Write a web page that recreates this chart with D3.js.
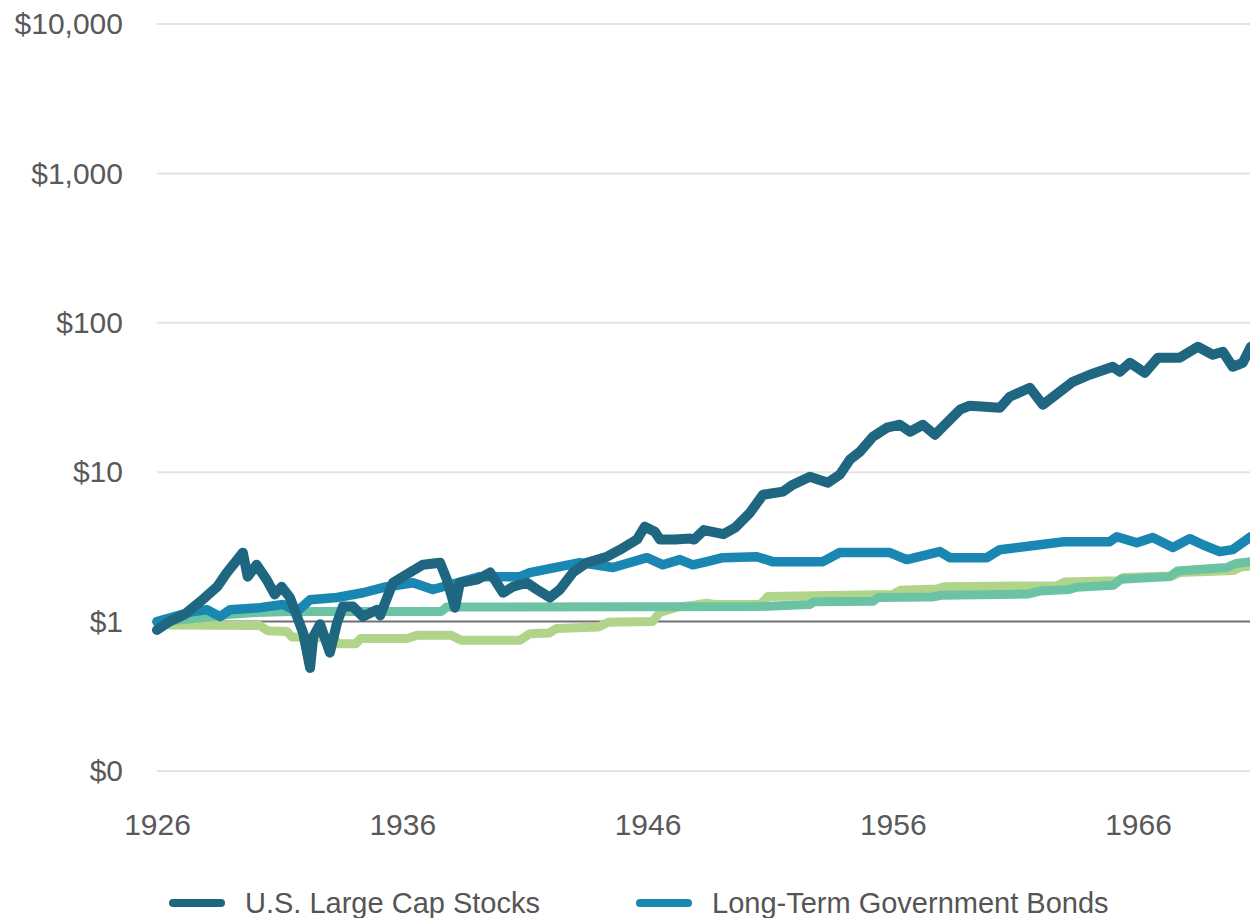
<!DOCTYPE html>
<html>
<head>
<meta charset="utf-8">
<script src="https://cdn.jsdelivr.net/npm/d3@7"></script>
<style>
  body { margin: 0; background: #fff; }
  svg { display: block; }
  text { font-family: "Liberation Sans", Arial, sans-serif; }
</style>
</head>
<body>
<div id="viz"></div>
<script>
// growth of $1, log scale. [year, value]
const stocks = [
  [1926.0, 0.88], [1926.5, 1.0], [1927.1, 1.11], [1927.76, 1.36], [1928.45, 1.71], [1928.85, 2.13],
  [1929.5, 2.89], [1929.7, 2.0], [1930.06, 2.4], [1930.47, 1.91], [1930.8, 1.52], [1931.08, 1.71],
  [1931.42, 1.45], [1931.71, 1.08], [1931.96, 0.84], [1932.24, 0.49], [1932.37, 0.79], [1932.65, 0.96],
  [1933.05, 0.62], [1933.34, 0.98], [1933.58, 1.26], [1933.99, 1.26], [1934.4, 1.08], [1934.97, 1.2],
  [1935.1, 1.1], [1935.62, 1.82], [1936.31, 2.13], [1936.84, 2.4], [1937.54, 2.48], [1937.82, 1.91],
  [1938.15, 1.24], [1938.35, 1.82], [1939.05, 1.91], [1939.58, 2.13], [1940.11, 1.56], [1940.51, 1.71],
  [1941.08, 1.82], [1941.49, 1.64], [1942.02, 1.45], [1942.43, 1.64], [1942.96, 2.13], [1943.53, 2.48],
  [1944.35, 2.72], [1944.88, 3.03], [1945.57, 3.54], [1945.89, 4.32], [1946.3, 4.0], [1946.51, 3.54],
  [1947.12, 3.54], [1947.73, 3.6], [1947.9, 3.54], [1948.3, 4.1], [1949.1, 3.85], [1949.57, 4.25],
  [1950.18, 5.36], [1950.71, 7.07], [1951.52, 7.41], [1951.93, 8.25], [1952.62, 9.33], [1953.36, 8.51],
  [1953.84, 9.62], [1954.25, 12.13], [1954.66, 13.7], [1955.19, 17.28], [1955.76, 19.85], [1956.29, 20.78],
  [1956.7, 18.66], [1957.23, 20.78], [1957.72, 17.81], [1958.33, 22.45], [1958.74, 26.2], [1959.14, 27.86],
  [1960.37, 27.0], [1960.77, 32.0], [1961.59, 36.75], [1962.12, 28.28], [1962.81, 34.55], [1963.34, 40.3],
  [1964.03, 44.9], [1964.97, 50.8], [1965.26, 47.0], [1965.67, 54.0], [1966.28, 46.3], [1966.81, 58.3],
  [1967.7, 58.3], [1968.44, 69.1], [1969.05, 61.1], [1969.46, 64.0], [1969.86, 50.8], [1970.27, 54.0],
  [1970.6, 69.1]
]

const bonds = [
  [1926.0, 1.0], [1927.47, 1.17], [1928.04, 1.2], [1928.57, 1.08], [1928.98, 1.2], [1930.2, 1.24],
  [1931.14, 1.3], [1931.71, 1.17], [1932.24, 1.4], [1933.34, 1.45], [1934.4, 1.56], [1935.21, 1.69],
  [1936.44, 1.82], [1937.25, 1.64], [1939.17, 2.0], [1940.8, 2.0], [1941.2, 2.13], [1943.24, 2.48],
  [1944.59, 2.3], [1945.98, 2.68], [1946.63, 2.4], [1947.32, 2.6], [1947.85, 2.4], [1948.42, 2.52],
  [1949.07, 2.68], [1950.46, 2.72], [1951.1, 2.52], [1953.15, 2.52], [1953.84, 2.9], [1955.88, 2.9],
  [1956.57, 2.6], [1957.92, 2.94], [1958.33, 2.68], [1959.84, 2.68], [1960.37, 3.03], [1962.0, 3.27],
  [1963.0, 3.43], [1964.85, 3.43], [1965.14, 3.7], [1965.95, 3.37], [1966.6, 3.65], [1967.42, 3.13],
  [1968.11, 3.59], [1968.64, 3.27], [1969.33, 2.94], [1969.86, 3.03], [1970.6, 3.7]
]

const bills = [
  [1926.0, 1.0], [1927, 1.03], [1928, 1.07], [1929, 1.12], [1930, 1.15], [1931.5, 1.17],
  [1937.6, 1.17], [1937.8, 1.25], [1950.5, 1.26], [1952.6, 1.3], [1952.8, 1.36], [1955.2, 1.37],
  [1955.4, 1.45], [1957.6, 1.46], [1958.0, 1.5], [1961.5, 1.53], [1962.0, 1.6], [1963.2, 1.64],
  [1963.5, 1.7], [1965.0, 1.75], [1965.3, 1.92], [1967.3, 2.0], [1967.6, 2.18], [1969.6, 2.3],
  [1970.0, 2.45], [1970.6, 2.52]
]

const inflation = [
  [1926.0, 1.0], [1926.5, 0.95], [1930.2, 0.94], [1930.5, 0.87], [1931.3, 0.86], [1931.5, 0.79],
  [1933.2, 0.78], [1933.4, 0.71], [1934.1, 0.71], [1934.3, 0.77], [1936.2, 0.77], [1936.6, 0.81],
  [1938.0, 0.81], [1938.4, 0.75], [1940.8, 0.75], [1941.2, 0.83], [1942.0, 0.84], [1942.3, 0.9],
  [1944.0, 0.92], [1944.4, 0.99], [1946.2, 1.0], [1946.5, 1.15], [1947.2, 1.25], [1947.8, 1.28],
  [1948.4, 1.33], [1948.8, 1.3], [1950.6, 1.3], [1950.9, 1.47], [1956.0, 1.52], [1956.3, 1.62],
  [1957.8, 1.65], [1958.1, 1.71], [1962.7, 1.74], [1963.0, 1.84], [1965.2, 1.88], [1965.4, 1.97],
  [1967.4, 2.02], [1967.7, 2.13], [1969.9, 2.2], [1970.2, 2.33], [1970.6, 2.35]
]

const seriesNames = ["U.S. Large Cap Stocks", "Long-Term Government Bonds", "U.S. Treasury Bills", "Inflation"]
const xTicks = [1926, 1936, 1946, 1956, 1966]
const yTicks = [0.1, 1, 10, 100, 1000, 10000]

const width = 1250, height = 918

// draw order: inflation, bills, bonds, stocks on top
const series = [
  { name: seriesNames[3], data: inflation, color: "#b1d48b", w: 9 },
  { name: seriesNames[2], data: bills, color: "#6cc3a3", w: 9 },
  { name: seriesNames[1], data: bonds, color: "#1a87b3", w: 9.5 },
  { name: seriesNames[0], data: stocks, color: "#1f6680", w: 10 }
]

const x = d3.scaleLinear().domain([1926, 1966]).range([157, 1138])
const y = d3.scaleLog().domain([0.1, 10000]).range([771, 24])

const svg = d3.select("#viz").append("svg")
  .attr("width", width)
  .attr("height", height)

// gridlines
svg.append("g")
  .selectAll("line")
  .data(yTicks.filter(d => d !== 1))
  .join("line")
    .attr("x1", x(1926)).attr("x2", width)
    .attr("y1", d => y(d)).attr("y2", d => y(d))
    .attr("stroke", "#e3e3e3")
    .attr("stroke-width", 2)

// $1 reference line
svg.append("line")
  .attr("x1", x(1926)).attr("x2", width)
  .attr("y1", y(1)).attr("y2", y(1))
  .attr("stroke", "#707070")
  .attr("stroke-width", 2)

// y axis labels
const fmt = d3.format(",")
const yAxis = svg.append("g")
  .attr("transform", "translate(123,0)")
  .call(d3.axisLeft(y).tickValues(yTicks).tickSize(0).tickPadding(0)
    .tickFormat(d => d < 1 ? "$0" : "$" + fmt(d)))
yAxis.select(".domain").remove()
yAxis.selectAll("text")
  .attr("font-size", 30)
  .attr("fill", "#595959")
  .attr("font-family", "Liberation Sans, Arial, sans-serif")

// x axis labels
const xAxis = svg.append("g")
  .attr("transform", "translate(0,814)")
  .call(d3.axisBottom(x).tickValues(xTicks).tickSize(0).tickPadding(0).tickFormat(d3.format("d")))
xAxis.select(".domain").remove()
xAxis.selectAll("text")
  .attr("font-size", 30)
  .attr("fill", "#595959")
  .attr("font-family", "Liberation Sans, Arial, sans-serif")

// lines
const line = d3.line()
  .x(d => x(d[0]))
  .y(d => y(d[1]))

svg.append("g")
  .selectAll("path")
  .data(series)
  .join("path")
    .attr("d", d => line(d.data))
    .attr("fill", "none")
    .attr("stroke", d => d.color)
    .attr("stroke-width", d => d.w)
    .attr("stroke-linejoin", "round")
    .attr("stroke-linecap", "round")

// legend (only the first two entries fit in view)
const legendItems = [
  { name: seriesNames[0], color: "#1f6680", x: 173 },
  { name: seriesNames[1], color: "#1a87b3", x: 640 }
]
const legend = svg.append("g").attr("transform", "translate(0,903)")
const li = legend.selectAll("g").data(legendItems).join("g")
  .attr("transform", d => `translate(${d.x},0)`)
li.append("line")
  .attr("x1", 0).attr("x2", 48)
  .attr("stroke", d => d.color)
  .attr("stroke-width", 8)
  .attr("stroke-linecap", "round")
li.append("text")
  .attr("x", 72)
  .attr("dy", "0.35em")
  .attr("font-size", 29)
  .attr("fill", "#555")
  .text(d => d.name)
</script>
</body>
</html>
